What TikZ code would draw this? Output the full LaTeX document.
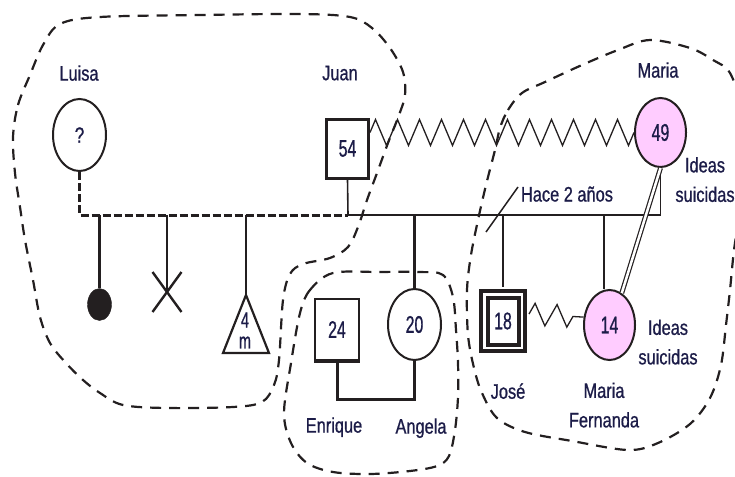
\documentclass[tikz,border=0pt]{standalone}
\usepackage{fontspec}
\usetikzlibrary{shapes.geometric,decorations.pathmorphing,calc}
\newfontfamily\labfont{Liberation Sans}[FakeStretch=0.78, FakeBold=0.8]
\newfontfamily\numfont{Liberation Sans}[FakeStretch=0.66, FakeBold=0.8]
\definecolor{ink}{RGB}{35,31,32}
\definecolor{txt}{RGB}{28,28,72}
\definecolor{pinkfill}{RGB}{255,204,255}
\begin{document}
\begin{tikzpicture}[x=1pt,y=-1pt,
  lab/.style={text=txt, font=\labfont\fontsize{21}{29.5}\selectfont, align=center, text depth=0pt, inner sep=0pt},
  num/.style={text=txt, font=\numfont\fontsize{24}{24}\selectfont},
  fem/.style={ellipse, draw=ink, line width=2pt, inner sep=0pt, num},
  male/.style={rectangle, draw=ink, inner sep=0pt, num},
  kid/.style={draw=ink, line width=2.5pt},
  outline/.style={draw=ink, line width=2.2pt, dash pattern=on 11pt off 8pt},
  zz/.style={draw=ink, line width=1.3pt, decorate, decoration={zigzag, segment length=22pt, amplitude=13pt}},
]
\useasboundingbox (0,0) rectangle (735,476);

% dashed outlines
\draw[outline] plot[smooth cycle, tension=0.55] coordinates {
 (13,137) (18,105) (30,75) (43,45) (60,24) (100,17) (200,15) (300,14) (350,17)
 (372,28) (390,48) (403,72) (405,95) (399,115) (388,143) (377,173) (367,200)
 (358,227) (348,247) (330,258) (303,264) (290,274) (283,300) (279,360)
 (274,385) (262,402) (233,407) (167,408) (123,405) (100,393) (83,380)
 (65,362) (50,343) (40,317) (33,280) (25,240) (20,207) (15,173)};
\draw[outline] plot[smooth cycle, tension=0.55] coordinates {
 (333,273) (310,290) (300,313) (291,363) (284,413) (291,443) (307,463)
 (333,472) (370,474) (410,471) (437,466) (449,456) (455,430) (458,397)
 (458,363) (456,330) (453,297) (443,275) (420,272) (380,272)};
\draw[outline] plot[smooth cycle, tension=0.55] coordinates {
 (500,128) (508,110) (522,93) (545,82) (582,65) (618,50) (650,40) (690,48)
 (713,60) (730,73) (742,110) (745,160) (740,210) (734,250) (730,290)
 (726,325) (721,365) (710,398) (690,424) (658,443) (628,450) (572,441)
 (525,432) (497,418) (482,393) (474,368) (468,335) (467,290) (471,255)
 (478,220) (486,185) (495,150)};

% persons
\node[fem, minimum width=53pt, minimum height=72pt, font=\labfont\fontsize{22}{22}\selectfont] (luisa) at (79.5,135) {?};
\node[male, line width=3pt, minimum width=42pt, minimum height=59pt] (juan) at (347.5,148.5) {54};
\node[fem, fill=pinkfill, minimum width=51pt, minimum height=69pt] (maria) at (660.5,132.5) {49};
\node[male, line width=2.2pt, minimum width=43.8pt, minimum height=60.8pt] (enrique) at (337,329.5) {24};
\node[fem, minimum width=53pt, minimum height=71pt] (angela) at (414.5,324.5) {20};
\node[male, line width=4pt, double=white, double distance=2.5pt, minimum width=37.5pt, minimum height=53.5pt] (jose) at (503,321) {18};
\node[fem, fill=pinkfill, minimum width=51pt, minimum height=70pt] (mf) at (609.5,325) {14};
\node[ellipse, fill=ink, draw=ink, minimum width=24pt, minimum height=32pt, inner sep=0pt] (c1) at (99.5,304.5) {};
\coordinate (xc) at (167,292);
\coordinate (tri) at (246,295);
\node[num, font=\numfont\fontsize{22}{22}\selectfont, inner sep=0pt, text depth=0pt] (four) at (245,320) {4};
\node[num, font=\numfont\fontsize{22}{22}\selectfont, inner sep=0pt, text depth=0pt] (em) at (245,342.5) {m};

% labels
\node[lab] (luisaL) at (79,73) {Luisa};
\node[lab] (juanL) at (340,73) {Juan};
\node[lab] (mariaL) at (658,70) {Maria};
\node[lab] (ideas1) at (705,179.5) {Ideas\\suicidas};
\node[lab] (hace) at (567,194) {Hace 2 años};
\node[lab] (ideas2) at (668,342) {Ideas\\suicidas};
\node[lab] (enrL) at (334,425) {Enrique};
\node[lab] (angL) at (421,426) {Angela};
\node[lab] (joseL) at (508,391) {José};
\node[lab] (mfL) at (604,405) {Maria\\Fernanda};

% sibship line
\coordinate (j1) at (348,215);
\coordinate (sib) at (79,215);
\coordinate (mfk) at (604,215);
\draw[ink, line width=3pt, dash pattern=on 8pt off 3pt] (luisa.south) |- (j1);
\draw[ink, line width=1.6pt] (juan.south) -- (j1);
\draw[ink, line width=1.8pt] (j1) -| (maria.south);

% children
\draw[kid] (c1 |- sib) -- (c1.north);
\draw[kid] (xc |- sib) -- (xc);
\draw[ink, line width=2.4pt] (xc) +(-14.5,-20) -- +(14.5,20);
\draw[ink, line width=2.4pt] (xc) +(14.5,-20) -- +(-14.5,20);
\draw[kid] (tri |- sib) -- (tri);
\draw[ink, line width=2.2pt, line join=miter] (tri) -- (223,353) -- (269,353) -- cycle;
\draw[ink, line width=2.2pt] (angela.north |- sib) -- (angela.north);
\draw[ink, line width=2.2pt] (jose.north |- sib) -- ([yshift=5pt]jose.north);
\draw[ink, line width=2.2pt] (mfk) -- (mfk |- mf.north);

% divorce slash
\coordinate (s1) at (518,187);
\coordinate (s2) at (486,232);
\draw[ink, line width=1.5pt] (s1) -- (s2);

% marriage Enrique-Angela
\draw[ink, line width=4pt] (enrique.south west) -- (enrique.south east);
\draw[ink, line width=3pt] (enrique.south) -- ++(0,38) -| (angela.south);

% conflict zigzags
\draw[zz] (juan.east |- maria.west) -- (maria.west);
\draw[zz, decoration={zigzag, segment length=22pt, amplitude=11pt}] ([yshift=7pt, xshift=5.25pt]jose.east) -- (mf.163);

% close relation
\draw[ink, double=white, double distance=2.5pt, line width=1.2pt] (maria.south) -- (mf.69);
\end{tikzpicture}
\end{document}
